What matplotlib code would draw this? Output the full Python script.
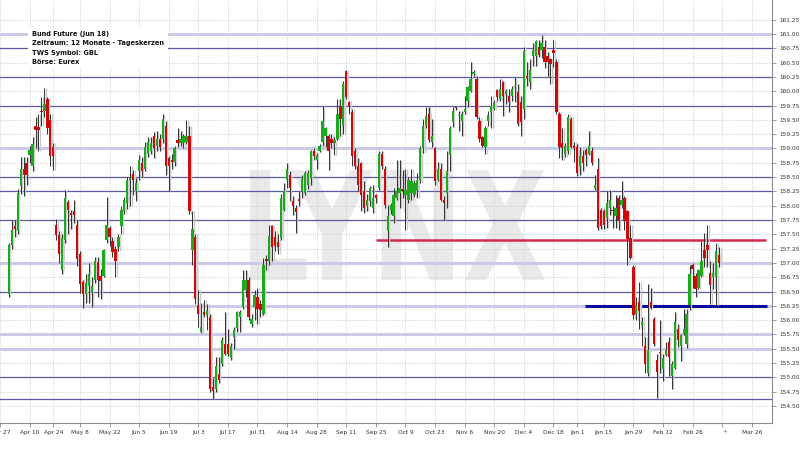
import numpy as np
import pandas as pd
import matplotlib
matplotlib.use("Agg")
import matplotlib.pyplot as plt
from matplotlib.textpath import TextPath
from matplotlib.patches import PathPatch, Rectangle
from matplotlib.font_manager import FontProperties
from matplotlib.transforms import Affine2D

# daily candles, trading day index 3 (Mar 30 2017) .. 243 (Mar 9 2018)
first_day = 3
opens = [
    156.45, 157.32, 157.65, 157.55, 158.34, 158.65, 158.74, 158.88, 158.70, 159.40,
    159.37, 159.66, 159.66, 159.86, 159.50, 159.03, 157.67, 157.49, 156.87, 157.40,
    158.06, 157.87, 157.90, 157.67, 157.16, 156.66, 156.45, 156.60, 156.50, 156.70,
    157.01, 156.78, 156.78, 157.40, 157.61, 157.39, 157.25, 157.27, 157.65, 157.90,
    158.05, 158.45, 158.55, 158.25, 158.60, 158.74, 158.65, 158.91, 158.95, 159.22,
    159.05, 159.17, 159.17, 159.40, 158.83, 158.80, 158.76, 159.14, 159.09, 159.09,
    159.12, 159.22, 157.23, 157.46, 156.26, 155.80, 156.14, 156.09, 156.05, 154.83,
    154.79, 155.05, 155.24, 155.59, 155.59, 155.33, 155.71, 155.86, 156.05, 156.23,
    156.52, 156.70, 155.93, 156.23, 156.40, 156.28, 156.10, 157.07, 157.04, 157.65,
    157.45, 157.36, 157.44, 157.93, 158.45, 158.53, 158.08, 157.96, 158.12, 158.25,
    158.22, 158.36, 158.48, 158.95, 158.79, 158.95, 159.12, 159.21, 159.22, 159.17,
    159.10, 159.17, 159.74, 159.40, 160.35, 159.81, 159.64, 158.95, 158.69, 158.74,
    158.25, 158.00, 158.08, 157.96, 158.18, 158.31, 158.91, 158.65, 157.56, 157.92,
    157.82, 158.13, 158.22, 158.30, 158.19, 158.10, 158.22, 158.19, 158.25, 158.45,
    159.00, 159.40, 159.60, 159.12, 159.00, 158.45, 158.65, 158.10, 158.22, 158.88,
    159.47, 159.72, 159.57, 159.48, 159.64, 159.83, 160.00, 160.30, 160.21, 159.48,
    159.20, 159.03, 159.48, 159.64, 159.69, 160.02, 159.86, 160.16, 159.95, 159.92,
    159.92, 160.07, 159.99, 159.81, 159.69, 160.26, 160.16, 160.61, 160.61, 160.77,
    160.73, 160.78, 160.61, 160.56, 160.73, 160.52, 159.60, 159.09, 158.91, 158.95,
    159.52, 159.05, 159.03, 158.70, 158.86, 158.97, 158.91, 158.95, 158.31, 158.65,
    157.93, 157.91, 157.79, 157.96, 157.93, 157.82, 158.13, 158.01, 158.13, 157.91,
    157.44, 156.92, 156.11, 156.31, 155.92, 155.54, 155.07, 156.31, 156.02, 155.31,
    155.44, 155.14, 155.39, 155.62, 155.02, 155.16, 155.85, 155.54, 155.76, 155.59,
    156.26, 156.97, 156.78, 156.57, 156.78, 157.23, 157.32, 156.83, 156.75, 156.75, 157.14,
]
highs = [
    157.35, 157.75, 157.75, 158.30, 158.85, 158.85, 158.85, 159.05, 159.20, 159.55,
    159.60, 159.90, 160.05, 159.90, 159.60, 159.10, 157.76, 157.55, 157.50, 158.27,
    158.10, 157.93, 158.10, 157.75, 157.20, 156.70, 156.80, 157.00, 156.75, 157.10,
    157.10, 156.90, 157.25, 158.15, 157.65, 157.45, 157.30, 157.50, 158.00, 158.15,
    158.50, 158.70, 158.62, 158.48, 158.88, 158.85, 159.12, 159.20, 159.20, 159.29,
    159.30, 159.25, 159.60, 159.48, 158.86, 158.90, 159.05, 159.36, 159.30, 159.25,
    159.50, 159.40, 157.91, 157.50, 156.52, 156.30, 156.35, 156.28, 156.10, 154.98,
    155.36, 155.35, 155.70, 156.14, 155.85, 155.60, 155.88, 156.16, 156.17, 156.87,
    156.87, 156.75, 156.10, 156.52, 156.57, 156.35, 157.09, 157.13, 157.67, 157.67,
    157.55, 157.50, 158.20, 158.40, 158.74, 158.60, 158.17, 158.01, 158.25, 158.53,
    158.60, 158.62, 158.97, 159.00, 158.92, 159.08, 159.74, 159.38, 159.26, 159.26,
    159.20, 159.86, 159.86, 160.18, 160.38, 159.83, 159.69, 159.00, 158.83, 158.77,
    158.43, 158.20, 158.35, 158.36, 158.20, 158.95, 158.95, 158.69, 158.01, 158.05,
    158.31, 158.79, 158.79, 158.62, 158.65, 158.50, 158.65, 158.45, 158.57, 159.05,
    159.52, 159.73, 159.73, 159.52, 159.03, 158.77, 158.74, 158.17, 158.95, 159.40,
    159.73, 159.75, 159.66, 159.66, 159.92, 160.09, 160.52, 160.38, 160.26, 159.55,
    159.22, 159.40, 159.65, 159.92, 159.84, 160.04, 160.21, 160.18, 160.04, 160.04,
    160.10, 160.25, 160.12, 159.92, 160.77, 160.52, 160.56, 160.85, 160.90, 160.90,
    160.99, 160.90, 160.68, 160.59, 160.90, 160.56, 159.64, 159.35, 159.10, 159.60,
    159.55, 159.12, 159.08, 159.03, 158.98, 159.00, 159.31, 159.03, 158.53, 158.83,
    157.96, 157.95, 158.25, 158.27, 157.99, 158.18, 158.18, 158.43, 158.17, 157.93,
    157.67, 156.96, 156.40, 156.66, 156.05, 155.71, 156.63, 156.57, 156.05, 155.41,
    156.00, 155.40, 155.62, 155.71, 155.28, 156.14, 155.94, 155.76, 156.19, 156.19,
    156.97, 157.00, 156.83, 156.90, 157.39, 157.53, 157.67, 157.04, 157.00, 157.35, 157.28,
]
lows = [
    156.40, 157.25, 157.45, 157.50, 158.20, 158.17, 158.36, 158.75, 158.60, 159.00,
    158.95, 159.40, 159.55, 159.25, 158.70, 158.62, 157.40, 157.00, 156.80, 157.35,
    157.50, 157.60, 157.70, 156.95, 156.48, 156.22, 156.30, 156.30, 156.23, 156.65,
    156.40, 156.37, 156.75, 157.35, 157.30, 157.10, 156.75, 157.20, 157.50, 157.85,
    157.95, 158.00, 158.19, 158.08, 158.45, 158.50, 158.60, 158.85, 158.90, 158.83,
    158.95, 158.95, 159.10, 158.53, 158.25, 158.65, 158.70, 159.03, 159.05, 159.00,
    159.08, 157.85, 156.97, 156.28, 155.88, 155.77, 156.05, 155.83, 154.75, 154.62,
    154.75, 154.90, 155.20, 155.39, 155.37, 155.30, 155.50, 155.80, 155.80, 156.20,
    156.40, 156.00, 155.88, 156.00, 155.93, 156.05, 156.09, 156.87, 156.96, 157.04,
    157.20, 157.15, 157.40, 157.90, 158.31, 158.08, 157.84, 157.53, 158.00, 158.13,
    158.18, 158.30, 158.36, 158.80, 158.65, 158.93, 159.05, 159.03, 158.62, 159.00,
    158.88, 159.14, 159.21, 159.26, 159.86, 159.60, 158.70, 158.65, 158.25, 157.91,
    157.87, 157.90, 158.00, 157.87, 158.05, 158.27, 158.65, 157.96, 157.27, 157.85,
    157.70, 158.10, 157.96, 158.13, 157.58, 158.05, 158.10, 158.15, 158.13, 158.40,
    158.92, 159.35, 159.12, 159.03, 158.36, 158.43, 158.08, 157.75, 157.96, 158.60,
    159.38, 159.68, 159.31, 159.21, 159.60, 159.73, 159.98, 160.26, 159.52, 159.12,
    159.03, 158.91, 159.40, 159.35, 159.67, 159.83, 159.83, 159.57, 159.77, 159.64,
    159.83, 159.81, 159.40, 159.21, 159.52, 160.09, 160.04, 160.44, 160.44, 160.60,
    160.59, 160.40, 160.26, 160.12, 160.42, 159.60, 158.83, 158.79, 158.85, 158.91,
    159.00, 158.77, 158.52, 158.53, 158.60, 158.70, 158.88, 158.71, 158.27, 157.58,
    157.60, 157.60, 157.61, 157.84, 157.61, 157.61, 157.57, 157.96, 157.58, 156.97,
    157.06, 156.02, 156.00, 155.85, 155.54, 155.07, 155.02, 156.20, 155.54, 154.64,
    155.07, 154.93, 155.37, 155.02, 154.79, 155.14, 155.53, 155.28, 155.74, 155.52,
    156.18, 156.57, 156.40, 156.54, 156.75, 156.92, 156.92, 156.28, 156.54, 156.26, 156.92,
]
closes = [
    157.32, 157.58, 157.60, 158.22, 158.65, 158.53, 158.53, 158.97, 159.08, 159.33,
    159.33, 159.63, 159.78, 159.35, 158.86, 158.86, 157.49, 157.15, 157.44, 158.13,
    157.93, 157.84, 157.84, 157.06, 156.63, 156.45, 156.65, 156.80, 156.60, 157.04,
    156.70, 156.68, 157.22, 157.66, 157.46, 157.19, 157.04, 157.46, 157.93, 158.10,
    158.45, 158.48, 158.45, 158.39, 158.79, 158.60, 159.03, 159.12, 159.09, 159.00,
    159.17, 159.03, 159.52, 158.69, 158.70, 158.77, 159.00, 159.10, 159.17, 159.21,
    159.22, 157.91, 157.60, 156.37, 156.11, 155.88, 156.09, 156.16, 154.79, 154.77,
    155.19, 154.96, 155.66, 155.41, 155.41, 155.54, 155.83, 156.14, 156.14, 156.70,
    156.71, 156.05, 156.02, 156.44, 156.19, 156.17, 156.97, 157.04, 157.47, 157.27,
    157.30, 157.27, 158.13, 158.25, 158.65, 158.31, 157.99, 157.89, 158.08, 158.46,
    158.57, 158.57, 158.95, 158.86, 158.88, 159.05, 159.48, 159.35, 158.96, 159.09,
    159.15, 159.60, 159.52, 160.12, 159.90, 159.74, 158.86, 158.70, 158.36, 158.18,
    157.96, 158.10, 158.31, 158.13, 158.13, 158.91, 158.70, 158.01, 157.82, 158.01,
    158.18, 158.25, 158.31, 158.25, 158.27, 158.45, 158.43, 158.39, 158.45, 159.00,
    159.40, 159.57, 159.14, 159.22, 158.43, 158.65, 158.10, 158.05, 158.60, 159.35,
    159.66, 159.70, 159.59, 159.60, 159.69, 160.07, 160.21, 160.33, 159.55, 159.17,
    159.05, 159.35, 159.59, 159.74, 159.80, 159.90, 160.04, 159.92, 160.00, 159.81,
    160.04, 160.09, 159.43, 159.47, 160.71, 160.23, 160.38, 160.73, 160.87, 160.64,
    160.85, 160.52, 160.51, 160.47, 160.67, 159.64, 159.03, 159.00, 159.05, 159.55,
    159.03, 159.00, 158.57, 158.86, 158.74, 158.88, 159.05, 158.74, 158.36, 157.61,
    157.65, 157.67, 158.05, 158.10, 157.91, 157.96, 157.73, 158.10, 157.73, 157.41,
    157.09, 156.09, 156.26, 156.16, 155.97, 155.24, 155.48, 156.23, 155.59, 155.10,
    155.42, 155.33, 155.48, 155.36, 155.24, 155.97, 155.66, 155.74, 155.85, 156.11,
    156.80, 156.89, 156.54, 156.87, 157.04, 157.09, 157.22, 156.61, 156.83, 157.21, 157.00,
]

# x axis: every second monday, Mar 12 has only a marker
tick_dates = ["2017-03-27", "2017-04-10", "2017-04-24", "2017-05-08", "2017-05-22",
              "2017-06-05", "2017-06-19", "2017-07-03", "2017-07-17", "2017-07-31",
              "2017-08-14", "2017-08-28", "2017-09-11", "2017-09-25", "2017-10-09",
              "2017-10-23", "2017-11-06", "2017-11-20", "2017-12-04", "2017-12-18",
              "2018-01-01", "2018-01-15", "2018-01-29", "2018-02-12", "2018-02-26",
              "2018-03-12", "2018-03-26"]
tick_labels = ["Mar 27", "Apr 10", "Apr 24", "May 8", "May 22", "Jun 5", "Jun 19",
               "Jul 3", "Jul 17", "Jul 31", "Aug 14", "Aug 28", "Sep 11", "Sep 25",
               "Oct 9", "Oct 23", "Nov 6", "Nov 20", "Dec 4", "Dec 18", "Jan 1",
               "Jan 15", "Jan 29", "Feb 12", "Feb 26", "", "Mar 26"]
holidays = ["2017-04-14", "2017-04-17", "2017-05-01", "2017-12-25", "2017-12-26", "2018-01-01"]

# horizontal price levels
light_levels = [161.00, 159.00, 157.00, 156.25, 155.75, 155.50]
dark_levels = [160.75, 160.25, 159.75, 158.50, 158.25, 157.75, 156.50, 155.00, 154.63]
resistance = 157.40
support = 156.25

info_lines = ["Bund Future (Jun 18)", "Zeitraum: 12 Monate - Tageskerzen",
              "TWS Symbol: GBL", "Börse: Eurex"]

# trading calendar -> index positions
days = pd.bdate_range("2017-03-27", "2018-04-13")
days = days[~days.isin(pd.to_datetime(holidays))]
tick_pos = days.searchsorted(pd.to_datetime(tick_dates))

o = np.array(opens)
h = np.array(highs)
l = np.array(lows)
c = np.array(closes)
x = first_day + np.arange(len(o))

fig = plt.figure(figsize=(8, 4.5), dpi=100)
ax = fig.add_axes([0, 27 / 450, 772 / 800, 423 / 450 + 0.0001])
ax.set_xlim(2.64, 260.84)
ax.set_ylim(154.202, 161.596)

# watermark
fp = FontProperties(family="DejaVu Sans", weight="bold")
tp = TextPath((0, 0), "LYNX", size=1, prop=fp)
bb = tp.get_extents()
fx0, fx1 = 250 / 800, 545 / 800
fy0, fy1 = 1 - 280 / 450, 1 - 170 / 450
tr = Affine2D().translate(-bb.x0, -bb.y0).scale((fx1 - fx0) / bb.width, (fy1 - fy0) / bb.height).translate(fx0, fy0)
ax.add_patch(PathPatch(tr.transform_path(tp), transform=fig.transFigure,
                       facecolor="#e9e9e9", edgecolor="none", zorder=0.5, clip_on=False))

# dotted grid
yt = np.arange(154.5, 161.26, 0.25)
for v in yt:
    ax.axhline(v, color="#c4c4c4", lw=0.6, ls=(0, (1, 1.5)), zorder=1)
for p in tick_pos:
    ax.axvline(p, color="#c4c4c4", lw=0.6, ls=(0, (1, 1.5)), zorder=1)

for v in light_levels:
    ax.axhline(v, color="#c9c9e8", lw=2.2, zorder=1.2)
for v in dark_levels:
    ax.axhline(v, color="#5a5aa0", lw=0.9, zorder=1.3)

ax.hlines(resistance, 127, 258.8, color="#d6294f", lw=1.8, zorder=2)
ax.hlines(support, 197.6, 259.2, color="#0b0b9c", lw=2.2, zorder=2)

# candles
up = c >= o
body_lo = np.minimum(o, c)
body_h = np.maximum(np.abs(c - o), 0.02)
ax.vlines(x + 0.45, l, h, color="#c8c8c8", lw=1.0, zorder=2.5)
ax.bar(x + 0.45, body_h, 0.7, bottom=body_lo, color="#d0d0d0", zorder=2.6)
ax.vlines(x, l, h, color="#303030", lw=0.7, zorder=3)
ax.bar(x[up], body_h[up], 0.78, bottom=body_lo[up], color="#1ea81e", zorder=4)
ax.bar(x[~up], body_h[~up], 0.78, bottom=body_lo[~up], color="#cc0a0a", zorder=4)

# axes
for s in ["left", "top"]:
    ax.spines[s].set_visible(False)
for s in ["right", "bottom"]:
    ax.spines[s].set_color("#8c8c8c")
    ax.spines[s].set_linewidth(0.8)
ax.yaxis.tick_right()
ax.set_yticks(yt)
ax.set_yticklabels(["%.2f" % v for v in yt])
ax.set_xticks(tick_pos)
ax.set_xticklabels(tick_labels)
ax.tick_params(axis="both", labelsize=4.2, colors="#8c8c8c", labelcolor="#333333",
               length=3, width=0.6, pad=2)
ax.text(tick_pos[25] + 0.2, 154.10, "+", fontsize=4, color="#666666", ha="left", va="top")

# info box
fig.patches.append(Rectangle((28 / 800, 1 - 67 / 450), 140 / 800, 39 / 450,
                             transform=fig.transFigure, facecolor="white", edgecolor="none", zorder=5))
for k, t in enumerate(info_lines):
    fig.text(32 / 800, 1 - (34 + 9.5 * k) / 450, t, fontsize=4.8, fontweight="bold",
             color="#111111", va="center", ha="left", zorder=6)

fig.savefig("out.png", dpi=100)
